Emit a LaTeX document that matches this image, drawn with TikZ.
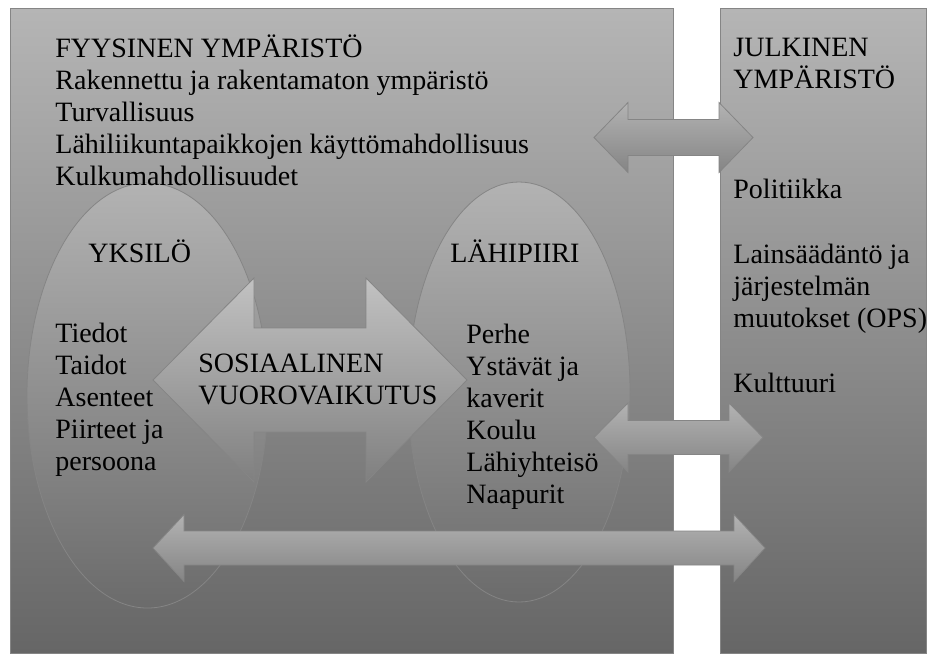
\documentclass[tikz,border=0pt]{standalone}
\usepackage{fontspec}
\setmainfont{Liberation Serif}
\usepackage{tikz}
\usetikzlibrary{calc}
\definecolor{bgtop}{gray}{0.71}
\definecolor{bgbot}{gray}{0.40}
\definecolor{edge}{gray}{0.52}
\def\dblarrow[#1](#2:#3:#4)(#5:#6:#7){\shadedraw[#1] (#2,#4) -- ({#2+#5},{#4-#6}) -- ({#2+#5},{#4-#7}) -- ({#3-#5},{#4-#7}) -- ({#3-#5},{#4-#6}) -- (#3,#4) -- ({#3-#5},{#4+#6}) -- ({#3-#5},{#4+#7}) -- ({#2+#5},{#4+#7}) -- ({#2+#5},{#4+#6}) -- cycle;}
\begin{document}
\begin{tikzpicture}[x=0.5pt,y=-0.5pt,
	txt/.style={anchor=base west, inner sep=0pt, align=left, font=\fontsize{14pt}{16pt}\selectfont},
	panel/.style={draw=edge, line width=0.5pt, top color=bgtop, bottom color=bgbot},
	bubble/.style={draw=edge, line width=0.4pt, top color=black!30, bottom color=black!58},
	bigarrow/.style={draw=edge, line width=0.4pt, top color=black!24, bottom color=black!50},
	smallarrow/.style={draw=edge, line width=0.4pt, top color=black!30, bottom color=black!48}]
				\fill[white] (0,0) rectangle (936,655);
				\useasboundingbox (0,0) rectangle (936,655);
				
				\shadedraw[panel] (10,8) rectangle (673,653);
				\shadedraw[panel] (720,8) rectangle (926,653);
				
				\shadedraw[bubble] (147.5,395.5) ellipse (120.5 and 212.5);
				\shadedraw[bubble] (519,392) ellipse (111 and 210);
				
				\dblarrow[bigarrow](153:467:380)(101:102:52)
				\dblarrow[smallarrow](594:753:137.5)(34:35:18)
				\dblarrow[smallarrow](594:763:437.5)(34:34.5:17)
				\dblarrow[smallarrow](153:765:548)(31:33.5:17)
				
				% text nodes sit on the baseline of their last line
				\node[txt] (fyys) at (55,185) {FYYSINEN YMPÄRISTÖ\\Rakennettu ja rakentamaton ympäristö\\Turvallisuus\\Lähiliikuntapaikkojen käyttömahdollisuus\\Kulkumahdollisuudet};
				\node[txt] (julk) at (733,88) {JULKINEN\\YMPÄRISTÖ};
				\node[txt] (politiikka) at (733,198) {Politiikka};
				\node[txt] (lains) at (733,327) {Lainsäädäntö ja\\järjestelmän\\muutokset (OPS)};
				\node[txt] (kulttuuri) at (733,392) {Kulttuuri};
				
				\node[txt] (yksilo) at (88,262) {YKSILÖ};
				\node[txt] (yksilolist) at (55,470) {Tiedot\\Taidot\\Asenteet\\Piirteet ja\\persoona};
				\node[txt] (lahipiiri) at (450,262) {LÄHIPIIRI};
				\node[txt] (lahilist) at (466,503) {Perhe\\Ystävät ja\\kaverit\\Koulu\\Lähiyhteisö\\Naapurit};
				\node[txt] (sosiaal) at (198,404) {SOSIAALINEN\\VUOROVAIKUTUS};
			\end{tikzpicture}
\end{document}
